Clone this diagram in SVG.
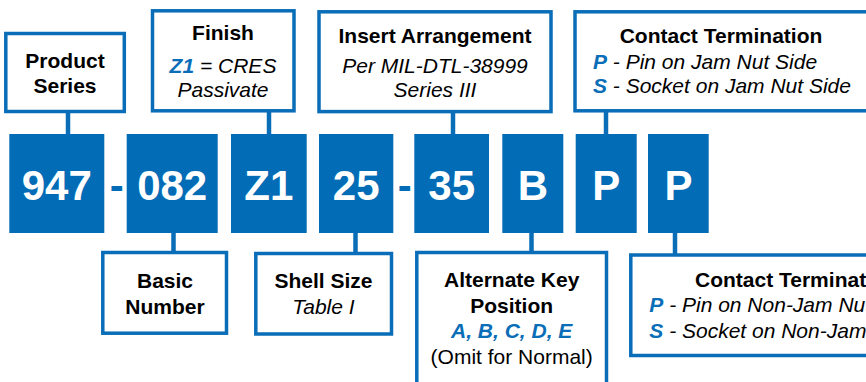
<svg xmlns="http://www.w3.org/2000/svg" width="866" height="382" viewBox="0 0 866 382">
<style>
.box{fill:#fff;stroke:#0a6db7;stroke-width:3.5}
.code{fill:#036cb6}
.ct{font-family:"Liberation Sans",Arial,sans-serif;font-weight:bold;font-size:42px;fill:#fff;text-anchor:middle}
.dash{font-family:"Liberation Sans",Arial,sans-serif;font-weight:bold;font-size:42px;fill:#036cb6;text-anchor:middle}
.t{font-family:"Liberation Sans",Arial,sans-serif;font-size:21px;fill:#000}
.b{font-weight:bold}
.i{font-style:italic}
.m{text-anchor:middle}
.bl{fill:#0a6db7;font-weight:bold}
.conn line{stroke:#0a6db7;stroke-width:4.5}
</style>
<rect width="866" height="382" fill="#fff"/>
<g class="conn" id="connectors">
<line x1="68" y1="112" x2="68" y2="135"/>
<line x1="269" y1="111" x2="269" y2="135"/>
<line x1="453" y1="112" x2="453" y2="135"/>
<line x1="606" y1="111" x2="606" y2="135"/>
<line x1="173.5" y1="232" x2="173.5" y2="252"/>
<line x1="355.5" y1="232" x2="355.5" y2="253"/>
<line x1="531.5" y1="232" x2="531.5" y2="252"/>
<line x1="675" y1="232" x2="675" y2="255"/>
</g>
<g id="product-series">
<rect class="box" x="5.8" y="33.5" width="118.5" height="78"/>
<text class="t b m" x="65" y="68">Product</text>
<text class="t b m" x="65" y="93">Series</text>
</g>
<g id="finish">
<rect class="box" x="152.5" y="10.8" width="141.5" height="100"/>
<text class="t b m" x="223" y="40">Finish</text>
<text class="t i m" x="223" y="73"><tspan class="bl">Z1</tspan> = CRES</text>
<text class="t i m" x="223" y="97">Passivate</text>
</g>
<g id="insert-arrangement">
<rect class="box" x="319" y="11.8" width="232" height="99.8"/>
<text class="t b m" x="435" y="43">Insert Arrangement</text>
<text class="t i m" x="435" y="72.5">Per MIL-DTL-38999</text>
<text class="t i m" x="435" y="96.5">Series III</text>
</g>
<g id="contact-termination-top">
<rect class="box" x="575" y="11.8" width="300" height="99"/>
<text class="t b m" x="721" y="42.5">Contact Termination</text>
<text class="t i" x="593" y="69"><tspan class="bl">P</tspan>  - Pin on Jam Nut Side</text>
<text class="t i" x="593" y="93"><tspan class="bl">S</tspan> - Socket on Jam Nut Side</text>
</g>
<g id="code-947"><rect class="code" x="9.3" y="134" width="95" height="99"/><text class="ct" x="56.8" y="200">947</text></g>
<g id="dash-1"><text class="dash" x="116.7" y="200">-</text></g>
<g id="code-082"><rect class="code" x="126.7" y="134" width="91" height="99"/><text class="ct" x="172.2" y="200">082</text></g>
<g id="code-z1"><rect class="code" x="231" y="134" width="75.7" height="99"/><text class="ct" x="268.8" y="200">Z1</text></g>
<g id="code-25"><rect class="code" x="319" y="134" width="74.3" height="99"/><text class="ct" x="356.2" y="200">25</text></g>
<g id="dash-2"><text class="dash" x="404.8" y="200">-</text></g>
<g id="code-35"><rect class="code" x="414.3" y="134" width="74.7" height="99"/><text class="ct" x="451.7" y="200">35</text></g>
<g id="code-b"><rect class="code" x="502.3" y="134" width="61" height="99"/><text class="ct" x="532.8" y="200">B</text></g>
<g id="code-p1"><rect class="code" x="575.7" y="134" width="61" height="99"/><text class="ct" x="606.2" y="200">P</text></g>
<g id="code-p2"><rect class="code" x="648" y="134" width="60.7" height="99"/><text class="ct" x="678.4" y="200">P</text></g>
<g id="basic-number">
<rect class="box" x="102.8" y="252.5" width="123.7" height="80.7"/>
<text class="t b m" x="165" y="288">Basic</text>
<text class="t b m" x="165" y="314">Number</text>
</g>
<g id="shell-size">
<rect class="box" x="255.8" y="253.5" width="135.7" height="80.5"/>
<text class="t b m" x="323.5" y="288">Shell Size</text>
<text class="t i m" x="323.5" y="314">Table I</text>
</g>
<g id="alternate-key">
<rect class="box" x="416.8" y="252.5" width="189.7" height="140"/>
<text class="t b m" x="511.7" y="286.5">Alternate Key</text>
<text class="t b m" x="511.7" y="312.5">Position</text>
<text class="t i m bl" x="511.7" y="338">A, B, C, D, E</text>
<text class="t m" x="511.7" y="364">(Omit for Normal)</text>
</g>
<g id="contact-termination-bottom">
<rect class="box" x="630.8" y="255" width="260" height="100.5"/>
<text class="t b" x="695" y="286.5">Contact Termination</text>
<text class="t i" x="649.3" y="311.5"><tspan class="bl">P</tspan>  - Pin on Non-Jam Nut Side</text>
<text class="t i" x="649.3" y="338"><tspan class="bl">S</tspan> - Socket on Non-Jam Nut Side</text>
</g>
</svg>
